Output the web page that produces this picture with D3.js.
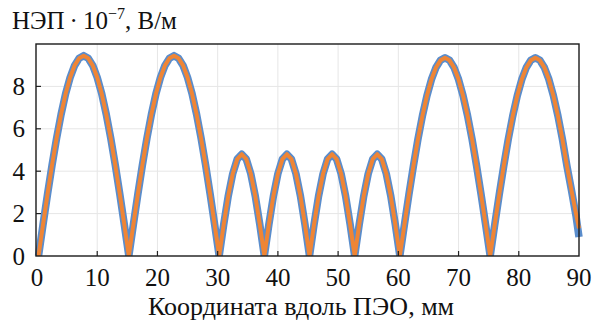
<!DOCTYPE html>
<html>
<head>
<meta charset="utf-8">
<script src="https://cdn.jsdelivr.net/npm/d3@7"></script>
<style>
  body { margin: 0; background: #fff; }
</style>
</head>
<body>
<svg id="chart" width="600" height="326"></svg>
<script>
// sample positions along the electrode, mm
const xPos = [
  0.25, 1, 1.75, 2.5, 3.25, 4, 4.75, 5.5, 6.25, 7, 7.75, 8.5, 9.25, 10, 10.75, 11.5, 12.25, 13, 13.75, 14.5,
  15.25, 16, 16.75, 17.5, 18.25, 19, 19.75, 20.5, 21.25, 22, 22.75, 23.5, 24.25, 25, 25.75, 26.5, 27.25, 28, 28.75, 29.5,
  30.25, 31, 31.75, 32.5, 33.25, 34, 34.75, 35.5, 36.25, 37, 37.75, 38.5, 39.25, 40, 40.75, 41.5, 42.25, 43, 43.75, 44.5,
  45.25, 46, 46.75, 47.5, 48.25, 49, 49.75, 50.5, 51.25, 52, 52.75, 53.5, 54.25, 55, 55.75, 56.5, 57.25, 58, 58.75, 59.5,
  60.25, 61, 61.75, 62.5, 63.25, 64, 64.75, 65.5, 66.25, 67, 67.75, 68.5, 69.25, 70, 70.75, 71.5, 72.25, 73, 73.75, 74.5,
  75.25, 76, 76.75, 77.5, 78.25, 79, 79.75, 80.5, 81.25, 82, 82.75, 83.5, 84.25, 85, 85.75, 86.5, 87.25, 88, 88.75, 89.5,
  90
];

// НЭП, 10^-7 В/м (blue, thick)
const blueVals = [
  0, 1.48, 2.92, 4.29, 5.55, 6.68, 7.65, 8.42, 8.99, 9.33, 9.45, 9.33, 8.99, 8.42, 7.65, 6.68, 5.55, 4.29, 2.92, 1.48,
  0, 1.48, 2.92, 4.29, 5.55, 6.68, 7.65, 8.42, 8.99, 9.33, 9.45, 9.33, 8.99, 8.42, 7.65, 6.68, 5.55, 4.29, 2.92, 1.48,
  0, 1.48, 2.82, 3.88, 4.57, 4.8, 4.57, 3.88, 2.82, 1.48, 0, 1.48, 2.82, 3.88, 4.57, 4.8, 4.57, 3.88, 2.82, 1.48,
  0, 1.48, 2.82, 3.88, 4.57, 4.8, 4.57, 3.88, 2.82, 1.48, 0, 1.48, 2.82, 3.88, 4.57, 4.8, 4.57, 3.88, 2.82, 1.48,
  0, 1.46, 2.89, 4.24, 5.5, 6.61, 7.56, 8.33, 8.89, 9.23, 9.35, 9.23, 8.89, 8.33, 7.56, 6.61, 5.5, 4.24, 2.89, 1.46,
  0, 1.46, 2.89, 4.24, 5.5, 6.61, 7.56, 8.33, 8.89, 9.23, 9.35, 9.23, 8.89, 8.33, 7.56, 6.61, 5.5, 4.24, 3.1, 1.9,
  0.9
];

// second curve (orange, thin) almost on top of the first
const orangeVals = [
  0, 1.48, 2.92, 4.29, 5.55, 6.68, 7.65, 8.42, 8.99, 9.33, 9.45, 9.33, 8.99, 8.42, 7.65, 6.68, 5.55, 4.29, 2.92, 1.48,
  0, 1.48, 2.92, 4.29, 5.55, 6.68, 7.65, 8.42, 8.99, 9.33, 9.45, 9.33, 8.99, 8.42, 7.65, 6.68, 5.55, 4.29, 2.92, 1.48,
  0, 1.48, 2.82, 3.88, 4.57, 4.8, 4.57, 3.88, 2.82, 1.48, 0, 1.48, 2.82, 3.88, 4.57, 4.8, 4.57, 3.88, 2.82, 1.48,
  0, 1.48, 2.82, 3.88, 4.57, 4.8, 4.57, 3.88, 2.82, 1.48, 0, 1.48, 2.82, 3.88, 4.57, 4.8, 4.57, 3.88, 2.82, 1.48,
  0, 1.46, 2.89, 4.24, 5.5, 6.61, 7.56, 8.33, 8.89, 9.23, 9.35, 9.23, 8.89, 8.33, 7.56, 6.61, 5.5, 4.24, 2.89, 1.46,
  0, 1.46, 2.89, 4.24, 5.5, 6.61, 7.56, 8.33, 8.89, 9.23, 9.35, 9.23, 8.89, 8.33, 7.56, 6.61, 5.5, 4.24, 3.1, 2.0,
  1.3
];

const xTicks = [0, 10, 20, 30, 40, 50, 60, 70, 80, 90];
const yTicks = [0, 2, 4, 6, 8];

const FONT = "Liberation Serif";
const svg = d3.select("#chart");
const pLeft = 36, pRight = 579, pTop = 44, pBottom = 256;

const x = d3.scaleLinear().domain([0, 90]).range([37, 579]);
const y = d3.scaleLinear().domain([0, 10]).range([pBottom, pTop]);

// grid
svg.append("g").selectAll("line")
  .data(xTicks.slice(1, -1))
  .enter().append("line")
  .attr("x1", d => x(d)).attr("x2", d => x(d))
  .attr("y1", pTop).attr("y2", pBottom)
  .attr("stroke", "#e6e6e6").attr("stroke-width", 1);

svg.append("g").selectAll("line")
  .data(yTicks.slice(1))
  .enter().append("line")
  .attr("x1", pLeft).attr("x2", pRight)
  .attr("y1", d => y(d)).attr("y2", d => y(d))
  .attr("stroke", "#e6e6e6").attr("stroke-width", 1);

// curves
const pts = (vals) => xPos.map((v, i) => [v, vals[i]]);
const line = d3.line().x(d => x(d[0])).y(d => y(d[1]));

svg.append("path")
  .attr("d", line(pts(blueVals)))
  .attr("fill", "none")
  .attr("stroke", "#5a8dcc")
  .attr("stroke-width", 7.5)
  .attr("stroke-linejoin", "round");

svg.append("path")
  .attr("d", line(pts(orangeVals)))
  .attr("fill", "none")
  .attr("stroke", "#ef8535")
  .attr("stroke-width", 4)
  .attr("stroke-linejoin", "round");

// white out anything below the axis
svg.append("rect").attr("x", 0).attr("y", pBottom).attr("width", 600).attr("height", 70).attr("fill", "#fff");

// tick marks (inside)
svg.append("g").selectAll("line")
  .data(xTicks.slice(1, -1))
  .enter().append("line")
  .attr("x1", d => x(d)).attr("x2", d => x(d))
  .attr("y1", pBottom).attr("y2", pBottom - 5)
  .attr("stroke", "#222").attr("stroke-width", 1.2);

svg.append("g").selectAll("line")
  .data(yTicks.slice(1))
  .enter().append("line")
  .attr("x1", pLeft).attr("x2", pLeft + 5)
  .attr("y1", d => y(d)).attr("y2", d => y(d))
  .attr("stroke", "#222").attr("stroke-width", 1.2);

// frame
svg.append("rect")
  .attr("x", pLeft).attr("y", pTop)
  .attr("width", pRight - pLeft).attr("height", pBottom - pTop)
  .attr("fill", "none").attr("stroke", "#1a1a1a").attr("stroke-width", 1.4);

// tick labels
svg.append("g").selectAll("text")
  .data(xTicks)
  .enter().append("text")
  .attr("x", d => x(d)).attr("y", 286)
  .attr("text-anchor", "middle")
  .attr("fill", "#111")
  .style("font-family", FONT)
  .style("font-size", "25px")
  .text(d => d);

svg.append("g").selectAll("text")
  .data(yTicks)
  .enter().append("text")
  .attr("x", 25).attr("y", d => y(d) + 8.5)
  .attr("text-anchor", "end")
  .attr("fill", "#111")
  .style("font-family", FONT)
  .style("font-size", "25px")
  .text(d => d);

// axis titles
svg.append("text")
  .attr("x", 301).attr("y", 315)
  .attr("text-anchor", "middle")
  .attr("fill", "#111")
  .style("font-family", FONT)
  .style("font-size", "26px")
  .text("Координата вдоль ПЭО, мм");

const yl = svg.append("text")
  .attr("x", 12).attr("y", 29)
  .attr("fill", "#111")
  .style("font-family", FONT)
  .style("font-size", "25px");
yl.append("tspan").text("НЭП\u2009·\u200910");
yl.append("tspan").attr("dy", -10).style("font-size", "16px").text("−7");
yl.append("tspan").attr("dy", 10).text(", В/м");
</script>
</body>
</html>
